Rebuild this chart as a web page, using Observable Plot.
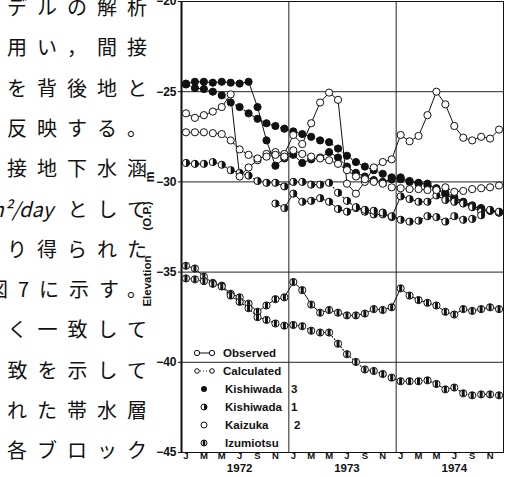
<!DOCTYPE html>
<html><head><meta charset="utf-8">
<script src="https://cdn.jsdelivr.net/npm/d3@7"></script>
<script src="https://cdn.jsdelivr.net/npm/@observablehq/plot@0.6"></script>
<style>
body{margin:0;background:#fff;}
#wrap{position:relative;width:507px;height:477px;overflow:hidden;background:#fff;}
#chart{position:absolute;left:0;top:0;}
#jp{position:absolute;left:0;top:0;width:150px;height:477px;overflow:hidden;}
#jp div{position:absolute;white-space:nowrap;font-family:"Noto Sans CJK JP";font-weight:400;font-size:20px;letter-spacing:10px;line-height:1;color:#111;}
#jp span.lat{letter-spacing:0;font-style:italic;}
</style></head>
<body><div id="wrap"><div id="chart"></div><div id="jp"></div></div>
<script>
// ---- text ----
const jpLines = ["デルの解析","を用い，間接","を背後地と","に反映する。","直接地下水涵","m²/day として","より得られた","図7に示す。","よく一致して","一致を示して","られた帯水層","各ブロック"];
const monthLetters = ["J","M","M","J","S","N"];
const years = ["1972","1973","1974"];
const yTicks = [-20,-25,-30,-35,-40,-45];
const gridY = [-25,-30,-35,-40];
const legendLines = ["Observed","Calculated"];
const legendWells = [["Kishiwada","3"],["Kishiwada","1"],["Kaizuka","2"],["Izumiotsu",""]];

// ---- data: monthly values Jan 1972 .. Dec 1974 (m, O.P.) ----
const kishiwada3Obs = [-24.55,-24.45,-24.45,-24.5,-24.45,-24.5,-24.55,-24.45,-25.85,-27.7,-29.1,-28.7,
  -28.5,-28.95,-28.75,-28.65,-28.35,-28.65,-29.15,-29.5,-29.7,-29.9,-30.0,-29.85,
  -29.75,-30.0,-30.05,-30.1,-30.4,-30.7,-30.95,-31.15,-31.35,-31.5,-31.6,-31.7];
const kishiwada3Calc = [-24.6,-24.8,-24.85,-25.0,-25.2,-25.6,-25.85,-26.2,-26.5,-26.75,-26.9,-27.05,
  -27.2,-27.35,-27.5,-27.7,-27.8,-28.15,-28.55,-28.9,-29.15,-29.35,-29.55,-29.75,
  -29.85,-29.95,-30.1,-30.2,-30.35,-30.6,-30.85,-31.1,-31.3,-31.45,-31.6,-31.7];
const kishiwada1Obs = [null,null,null,null,null,null,null,null,null,null,-31.2,-31.45,
  -30.65,-31.1,-31.05,-30.9,-31.1,-31.5,-31.65,-31.45,-31.65,-31.8,-31.8,-31.95,
  -30.8,-30.95,-31.1,-31.1,-30.75,-31.0,-31.1,-31.2,-31.4,-31.65,-31.55,-31.65];
const kishiwada1Calc = [-28.95,-29.0,-29.0,-28.9,-29.05,-29.35,-29.5,-29.65,-29.95,-30.05,-30.05,-30.25,
  -30.0,-30.0,-30.15,-30.15,-30.05,-30.6,-31.05,-31.4,-31.55,-31.6,-31.7,-31.9,
  -32.1,-32.2,-32.15,-31.9,-31.95,-32.2,-31.9,-32.1,-32.05,-31.85,null,null];
const kaizuka2Obs = [-26.2,-26.45,-26.3,-26.1,-25.85,-25.15,-29.7,-29.2,-28.8,-28.45,-28.35,-28.45,
  -27.4,-27.9,-26.75,-25.6,-25.05,-25.45,-30.1,-30.65,-30.0,-29.2,-28.9,-28.75,
  -27.4,-27.75,-27.45,-26.3,-25.0,-25.7,-26.9,-27.55,-27.7,-27.5,-27.6,-27.1];
const kaizuka2Calc = [-27.25,-27.25,-27.25,-27.3,-27.35,-27.7,-28.2,-28.5,-28.7,-28.6,-28.5,-28.6,
  -28.25,-28.45,-28.6,-28.7,-28.8,-29.0,-29.35,-29.7,-29.85,-30.0,-30.1,-30.3,
  -30.35,-30.4,-30.4,-30.45,-30.45,-30.3,-30.55,-30.5,-30.4,-30.35,-30.3,-30.2];
const izumiotsuObs = [-34.65,-34.8,-35.25,-35.6,-35.75,-36.2,-36.4,-36.75,-37.2,-36.85,-36.5,-36.4,
  -35.55,-36.0,-36.8,-37.25,-37.1,-37.25,-37.4,-37.4,-37.3,-37.05,-37.1,-36.95,
  -35.9,-36.3,-36.55,-36.7,-36.85,-37.2,-37.35,-37.05,-37.15,-37.05,-36.95,-37.05];
const izumiotsuCalc = [-35.35,-35.4,-35.5,-35.65,-35.8,-36.3,-36.65,-37.0,-37.5,-37.65,-37.85,-37.97,
  -37.93,-38.0,-38.25,-38.35,-38.35,-38.97,-39.55,-39.98,-40.4,-40.48,-40.65,-40.85,
  -41.05,-41.05,-41.05,-41.0,-41.2,-41.5,-41.4,-41.72,-41.83,-41.78,-41.78,-41.83];

function rows(arr){ return arr.map((v,i)=>({m:i+0.5,v})).filter(d=>d.v!=null); }

const halfDisc = {draw(ctx,size){const r=Math.sqrt(size/Math.PI);ctx.moveTo(0,-r);ctx.arc(0,0,r,-Math.PI/2,Math.PI/2);ctx.closePath();}};
const bar = {draw(ctx,size){const r=Math.sqrt(size/Math.PI);const w=r*0.42;const h=r*0.92;ctx.rect(-w,-h,2*w,2*h);}};

const F = "'Liberation Sans', Arial, sans-serif";
const obsStyle = {x:"m",y:"v",stroke:"#111",strokeWidth:1};
const calcStyle = {x:"m",y:"v",stroke:"#111",strokeWidth:1.1,strokeDasharray:"1,2.4"};

const series = [
  {d:rows(kishiwada3Obs), obs:true, kind:"full"},
  {d:rows(kishiwada3Calc), obs:false, kind:"full"},
  {d:rows(kishiwada1Obs), obs:true, kind:"half"},
  {d:rows(kishiwada1Calc), obs:false, kind:"half"},
  {d:rows(kaizuka2Obs), obs:true, kind:"open"},
  {d:rows(kaizuka2Calc), obs:false, kind:"open"},
  {d:rows(izumiotsuObs), obs:true, kind:"bar"},
  {d:rows(izumiotsuCalc), obs:false, kind:"bar"}
];
const R = 3.6;
const lineMarks = series.map(s => Plot.line(s.d, s.obs ? obsStyle : calcStyle));
const dotMarks = series.flatMap(s => {
  const base = {x:"m",y:"v",r:R,stroke:"#111",strokeWidth:1};
  if (s.kind==="full") return [Plot.dot(s.d,{...base,fill:"#111"})];
  if (s.kind==="open") return [Plot.dot(s.d,{...base,fill:"white"})];
  if (s.kind==="half") return [Plot.dot(s.d,{...base,fill:"white"}), Plot.dot(s.d,{x:"m",y:"v",r:R,symbol:halfDisc,fill:"#111",stroke:"none"})];
  return [Plot.dot(s.d,{...base,fill:"white"}), Plot.dot(s.d,{x:"m",y:"v",r:R,symbol:bar,fill:"#111",stroke:"none"})];
});

const chart = Plot.plot({
  width:507, height:477,
  marginLeft:181, marginRight:4, marginTop:1, marginBottom:25,
  style:{fontFamily:F, fontWeight:"bold", color:"#111", background:"transparent", overflow:"visible"},
  x:{domain:[0,36], label:null},
  y:{domain:[-45,-20], label:null},
  marks:[
    Plot.ruleY(gridY,{stroke:"#222",strokeWidth:1}),
    Plot.ruleX([12,24],{stroke:"#222",strokeWidth:1}),
    Plot.frame({stroke:"#111",strokeWidth:1}),
    Plot.ruleX([0],{stroke:"#111",strokeWidth:2}),
    Plot.axisY({ticks:yTicks, label:null, tickSize:3, tickPadding:2, fontSize:12, tickFormat:d=>"−"+Math.abs(d)}),
    Plot.axisX({ticks:d3.range(0.5,36,2), label:null, tickSize:0, tickPadding:0, fontSize:9.5,
      tickFormat:d=>monthLetters[(Math.floor(d)%12)/2]}),
    Plot.text(years,{x:(d,i)=>i*12+6.5, frameAnchor:"bottom", dy:19, text:d=>d, fontSize:11.5, fontWeight:"bold"}),
    Plot.text(["Elevation"],{frameAnchor:"left", textAnchor:"middle", dx:-34, dy:54, rotate:-90, text:d=>d, fontSize:11.5, fontWeight:"bold"}),
    Plot.text(["(O.P.)"],{frameAnchor:"left", textAnchor:"middle", dx:-34, dy:-11, rotate:-90, text:d=>d, fontSize:11.5, fontWeight:"bold"}),
    Plot.text(["m"],{frameAnchor:"left", textAnchor:"middle", dx:-31, dy:-50, rotate:-90, text:d=>d, fontSize:12, fontWeight:"bold"}),
    ...lineMarks,
    ...dotMarks
  ]
});
document.getElementById("chart").appendChild(chart);

// ---- legend (inside plot area) ----
const svg = d3.select(chart);
const lg = svg.append("g").attr("font-family",F).attr("font-weight","bold").attr("font-size",11.5)
  .attr("fill","#111").attr("text-anchor","start");
legendLines.forEach((t,i)=>{
  const y = 353 + i*18;
  lg.append("line").attr("x1",197).attr("x2",212).attr("y1",y).attr("y2",y).attr("stroke","#111")
    .attr("stroke-dasharray", i ? "1,2" : null);
  [197,212].forEach(x=>lg.append("circle").attr("cx",x).attr("cy",y).attr("r",i?2.3:2.7).attr("fill","white").attr("stroke","#111"));
  lg.append("text").attr("x",223).attr("y",y).attr("dy","0.35em").text(t);
});
legendWells.forEach((w,i)=>{
  const y = 389 + i*18, x = 204, r = 3;
  if (i===0) lg.append("circle").attr("cx",x).attr("cy",y).attr("r",r).attr("fill","#111");
  else lg.append("circle").attr("cx",x).attr("cy",y).attr("r",r).attr("fill","white").attr("stroke","#111");
  if (i===1) lg.append("path").attr("transform",`translate(${x},${y})`).attr("d",d3.symbol(halfDisc, Math.PI*r*r)()).attr("fill","#111");
  if (i===3) lg.append("path").attr("transform",`translate(${x},${y})`).attr("d",d3.symbol(bar, Math.PI*r*r)()).attr("fill","#111");
  lg.append("text").attr("x",225).attr("y",y).attr("dy","0.35em").text(w[0]);
  if (w[1]) lg.append("text").attr("x",i===2?294:291).attr("y",y).attr("dy","0.35em").text(w[1]);
});

// ---- Japanese body text (cut at the left edge, as in the scan) ----
const jp = d3.select("#jp");
jpLines.forEach((t,k)=>{
  const div = jp.append("div").style("right","-7px").style("top",(8 + k*40.3 - 11)+"px");
  const m = t.match(/^([A-Za-z²\/]+)(.*)$/);
  if (m) { div.append("span").attr("class","lat").text(m[1]); div.append("span").text(m[2]); }
  else div.text(t);
});
</script>
</body></html>
